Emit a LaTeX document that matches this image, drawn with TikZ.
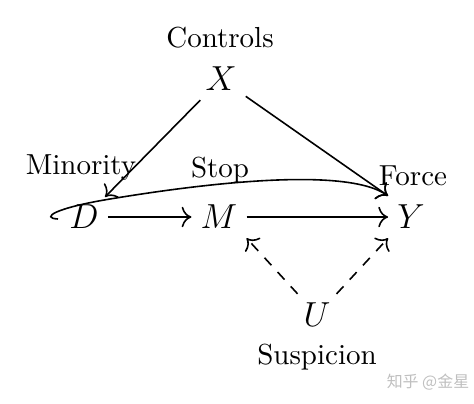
\documentclass[tikz,border=0pt]{standalone}
\usepackage{fontspec}
\usetikzlibrary{arrows.meta}
\newfontfamily\cjk{Noto Sans CJK SC}
\begin{document}
\begin{tikzpicture}[x=0.345pt,y=-0.345pt,
  >={To[scale=1.2]},
  var/.style={inner sep=3pt,font=\large},
  lbl/.style={inner sep=0pt},
  arr/.style={->,line width=0.55pt},
  darr/.style={->,line width=0.55pt,dash pattern=on 3.5pt off 3.2pt}]
\useasboundingbox (0,0) rectangle (474,403);
\node[var] (X) at (221,79) {$X$};
\node[var] (D) at (84,217) {$D$};
\node[var] (M) at (219,217) {$M$};
\node[var] (Y) at (411,217) {$Y$};
\node[var] (U) at (317,315) {$U$};
\node[lbl] (lc) at (220,38) {Controls};
\node[lbl] (lm) at (81,168) {Minority};
\node[lbl] (ls) at (220,170) {Stop};
\node[lbl] (lf) at (413,176) {Force};
\node[lbl] (lu) at (317,357) {Suspicion};
\node[lbl,text=black!25,font=\cjk\fontsize{5.5pt}{6pt}\selectfont] (wm) at (428,382) {知乎 @金星};
\coordinate (cs) at (58,219);
\coordinate (dx) at (105,197);
\draw[arr] (X) -- (dx);
\draw[arr] (X) -- (Y.north west);
\draw[arr] (D) -- (M);
\draw[arr] (M) -- (Y);
\draw[darr] (U) -- (M.south east);
\draw[darr] (U) -- (Y.south west);
\draw[arr] (cs) .. controls (40,218) and (55,208) .. (110,199) .. controls (200,184) and (345,166) .. (Y.north west);
\end{tikzpicture}
\end{document}
